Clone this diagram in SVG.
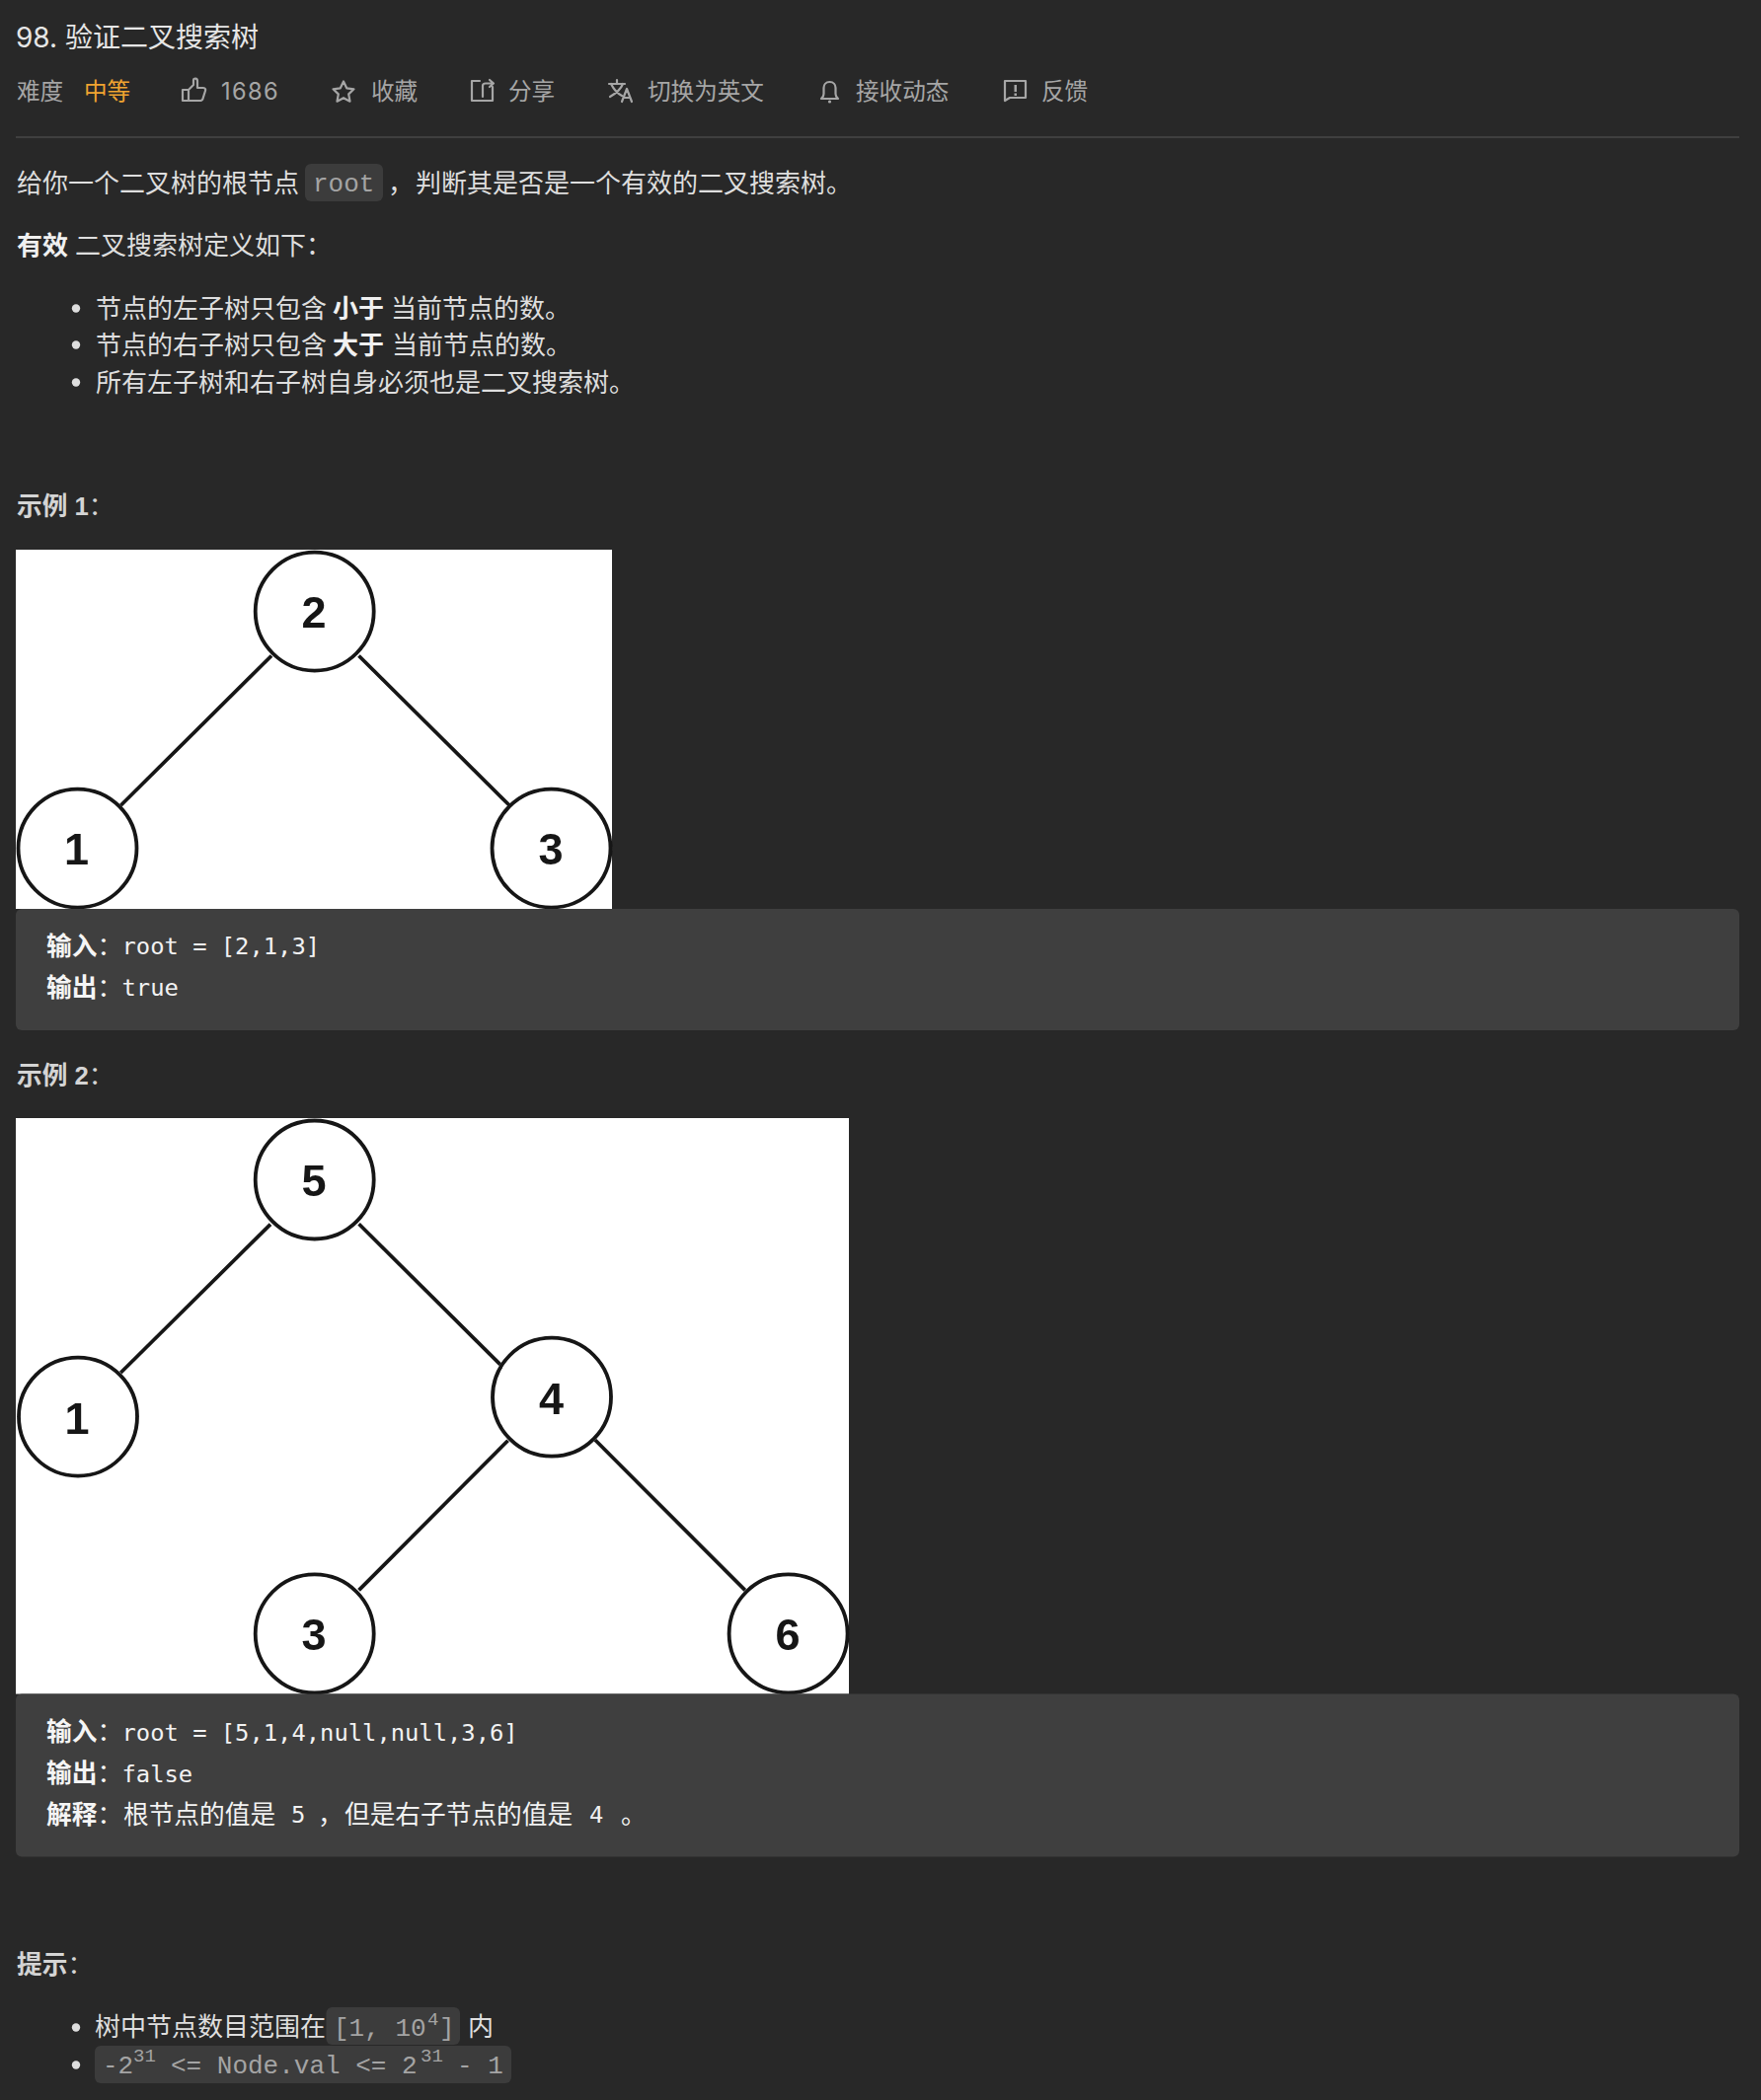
<svg xmlns="http://www.w3.org/2000/svg" width="1784" height="2128" viewBox="0 0 1784 2128">
<defs><filter id="soft" x="-5%" y="-5%" width="110%" height="110%"><feGaussianBlur stdDeviation="0.5"/></filter></defs>
<style>
text{font-family:"Liberation Sans","Noto Sans CJK SC",sans-serif;white-space:pre}
.t{font-size:28px;fill:#e6e6e6;font-family:Inter,"Noto Sans CJK SC",sans-serif}
.b{font-size:26px;fill:#dedede}
.bb{font-size:26px;fill:#f0f0f0;font-weight:700}
.h{font-size:25.7px;fill:#d4d4d4;font-weight:700}
.m{font-size:23.6px;fill:#a6a6a6;font-family:Inter,"Noto Sans CJK SC",sans-serif}
.pre{font-size:23.8px;fill:#f2f2f2;font-family:"DejaVu Sans Mono","Noto Sans CJK SC",monospace}
.preb{font-size:25.7px;fill:#f5f5f5;font-weight:700}
.prec{font-size:25.7px;fill:#f2f2f2}
.c{font-size:26px;fill:#a4a4a4;font-family:"Liberation Mono",monospace}
.sup{font-size:19px;fill:#a4a4a4;font-family:"Liberation Mono",monospace}
.col{font-weight:400}
.chip{fill:#3c3c3c}
.pb{fill:#3f3f3f}
.img{fill:#fff}
.n{fill:#fff;stroke:#141414;stroke-width:3.8}
.d{font-size:45px;font-weight:700;fill:#141414;text-anchor:middle}
.e{stroke:#141414;stroke-width:3.7;fill:none}
.i{fill:none;stroke:#a6a6a6;stroke-width:2.2;stroke-linejoin:round;stroke-linecap:round}
.dot{fill:#dedede}
.soft{filter:url(#soft)}
</style>
<rect width="1784" height="2128" fill="#282828"/>

<g id="header">
<text class="t" x="16" y="48">98. 验证二叉搜索树</text>
<text class="m" x="17" y="101">难度</text>
<text class="m" x="85" y="101" style="fill:#f0a330">中等</text>
<path class="i" d="M185 91h6v11h-6zM191 91l5-5v-5c0-2 4-2 4 1v7h6c2 0 2.500 1.500 2 3l-2.500 8c-.4 1.500-1.500 2-3 2h-11.500"/>
<text class="m" x="224" y="101" letter-spacing="1.400">1686</text>
<path class="i" d="M348 82.500l3.200 6.800 7.300 1-5.300 5.100 1.300 7.300-6.500-3.500-6.500 3.500 1.300-7.300-5.300-5.100 7.300-1z"/>
<text class="m" x="376" y="101">收藏</text>
<path class="i" d="M486 82h-8v20h21v-14M489 98v-11c0-2 1-2.500 3-2.500h8M496 81l4 3.500-4 3.500"/>
<text class="m" x="515" y="101">分享</text>
<path class="i" d="M617 85h16M625 81v4M619 85c3 6 7 10 11 12M631 85c-2 5-6 9-13 13M630 103l5-13 5 13M632 99h6"/>
<text class="m" x="656" y="101">切换为英文</text>
<path class="i" d="M840.500 83c-4 0-6 3-6 6v6c0 3-1.500 4-2.500 5h17c-1-1-2.500-2-2.500-5v-6c0-3-2-6-6-6z"/>
<circle cx="840.500" cy="103" r="1.600" fill="#a6a6a6"/>
<text class="m" x="867" y="101">接收动态</text>
<path class="i" d="M1018 82h21v17h-16l-5 3z"/>
<path d="M1027.500 86h2.500v7h-2.500zM1027.500 94.500h2.500v2.500h-2.500z" fill="#a6a6a6"/>
<text class="m" x="1055" y="101">反馈</text>
<rect x="16" y="138" width="1746" height="2" fill="#3f3f3f"/>
</g>

<g id="intro">
<text class="b" x="17" y="195">给你一个二叉树的根节点</text>
<rect class="chip" x="309" y="166" width="79" height="38" rx="6"/>
<text class="c" x="317" y="194">root</text>
<text class="b" x="393" y="195">，</text>
<text class="b" x="421" y="195">判断其是否是一个有效的二叉搜索树。</text>
<text class="bb" x="17" y="258">有效</text>
<text class="b" x="76" y="258">二叉搜索树定义如下：</text>
<circle class="dot" cx="77" cy="312.500" r="4.200"/>
<text class="b" x="97" y="321.500">节点的左子树只包含</text>
<text class="bb" x="337" y="321.500">小于</text>
<text class="b" x="396" y="321.500">当前节点的数。</text>
<circle class="dot" cx="77" cy="349.500" r="4.200"/>
<text class="b" x="97" y="358.500">节点的右子树只包含</text>
<text class="bb" x="337" y="358.500">大于</text>
<text class="b" x="397" y="358.500">当前节点的数。</text>
<circle class="dot" cx="77" cy="387.500" r="4.200"/>
<text class="b" x="97" y="396.500">所有左子树和右子树自身必须也是二叉搜索树。</text>
</g>

<text class="h" x="17" y="522">示例 1<tspan class="col">：</tspan></text>

<rect class="img" x="16" y="557" width="604" height="364"/>
<g id="tree1-connectors" class="soft">
<line class="e" x1="275" y1="664.500" x2="122.500" y2="816"/>
<line class="e" x1="363.500" y1="664.500" x2="516" y2="816"/>
</g>
<g id="t1-n2" class="soft"><circle class="n" cx="318.700" cy="619.600" r="60"/><text class="d" x="318" y="636">2</text></g>
<g id="t1-n1" class="soft"><circle class="n" cx="78.500" cy="859.600" r="60"/><text class="d" x="77.500" y="876">1</text></g>
<g id="t1-n3" class="soft"><circle class="n" cx="558.500" cy="859.600" r="60"/><text class="d" x="558" y="876">3</text></g>

<g id="example1">
<rect class="pb" x="16" y="921" width="1746" height="123" rx="6"/>
<text class="preb" x="47" y="967.500">输入<tspan class="col">：</tspan></text>
<text class="pre" x="123.500" y="967">root = [2,1,3]</text>
<text class="preb" x="47" y="1009.500">输出<tspan class="col">：</tspan></text>
<text class="pre" x="123.500" y="1009">true</text>
</g>

<text class="h" x="17" y="1098.500">示例 2<tspan class="col">：</tspan></text>

<rect class="img" x="16" y="1133" width="844" height="583.500"/>
<g id="tree2-connectors" class="soft">
<line class="e" x1="274" y1="1240.600" x2="122.300" y2="1391"/>
<line class="e" x1="363.600" y1="1240.300" x2="506.700" y2="1382.600"/>
<line class="e" x1="514.600" y1="1459.700" x2="363.600" y2="1611.400"/>
<line class="e" x1="603" y1="1459.300" x2="754.800" y2="1611.400"/>
</g>
<g id="t2-n5" class="soft"><circle class="n" cx="318.700" cy="1195.500" r="60"/><text class="d" x="318" y="1212">5</text></g>
<g id="t2-n1" class="soft"><circle class="n" cx="79" cy="1435.600" r="60"/><text class="d" x="78" y="1452.500">1</text></g>
<g id="t2-n4" class="soft"><circle class="n" cx="559" cy="1415.700" r="60"/><text class="d" x="558.500" y="1432.500">4</text></g>
<g id="t2-n3" class="soft"><circle class="n" cx="318.700" cy="1655.400" r="60"/><text class="d" x="318" y="1671.700">3</text></g>
<g id="t2-n6" class="soft"><circle class="n" cx="798.600" cy="1655.400" r="60"/><text class="d" x="798" y="1671.700">6</text></g>

<g id="example2">
<rect class="pb" x="16" y="1716.500" width="1746" height="165" rx="6"/>
<text class="preb" x="47" y="1764">输入<tspan class="col">：</tspan></text>
<text class="pre" x="123.500" y="1763.500">root = [5,1,4,null,null,3,6]</text>
<text class="preb" x="47" y="1806">输出<tspan class="col">：</tspan></text>
<text class="pre" x="123.500" y="1805.500">false</text>
<text class="preb" x="47" y="1847.500">解释<tspan class="col">：</tspan></text>
<text class="prec" x="125" y="1847.500">根节点的值是</text>
<text class="pre" x="295" y="1847">5</text>
<text class="prec" x="322" y="1847.500">，</text>
<text class="prec" x="349" y="1847.500">但是右子节点的值是</text>
<text class="pre" x="597" y="1847">4</text>
<text class="prec" x="629" y="1847.500">。</text>
</g>

<g id="constraints">
<text class="h" x="17" y="2000">提示<tspan class="col">：</tspan></text>
<circle class="dot" cx="77" cy="2054.500" r="4.200"/>
<text class="b" x="96" y="2063">树中节点数目范围在</text>
<rect class="chip" x="330.500" y="2034" width="135.500" height="38" rx="6"/>
<text class="c" x="338" y="2063">[1, 10</text>
<text class="sup" x="433" y="2052">4</text>
<text class="c" x="445" y="2063">]</text>
<text class="b" x="474" y="2063">内</text>
<circle class="dot" cx="77" cy="2092.500" r="4.200"/>
<rect class="chip" x="96" y="2073" width="422" height="38" rx="6"/>
<text class="c" x="104" y="2101">-2</text>
<text class="sup" x="135" y="2089">31</text>
<text class="c" x="173" y="2101">&lt;= Node.val &lt;= 2</text>
<text class="sup" x="426" y="2089">31</text>
<text class="c" x="463" y="2101">- 1</text>
</g>
</svg>
